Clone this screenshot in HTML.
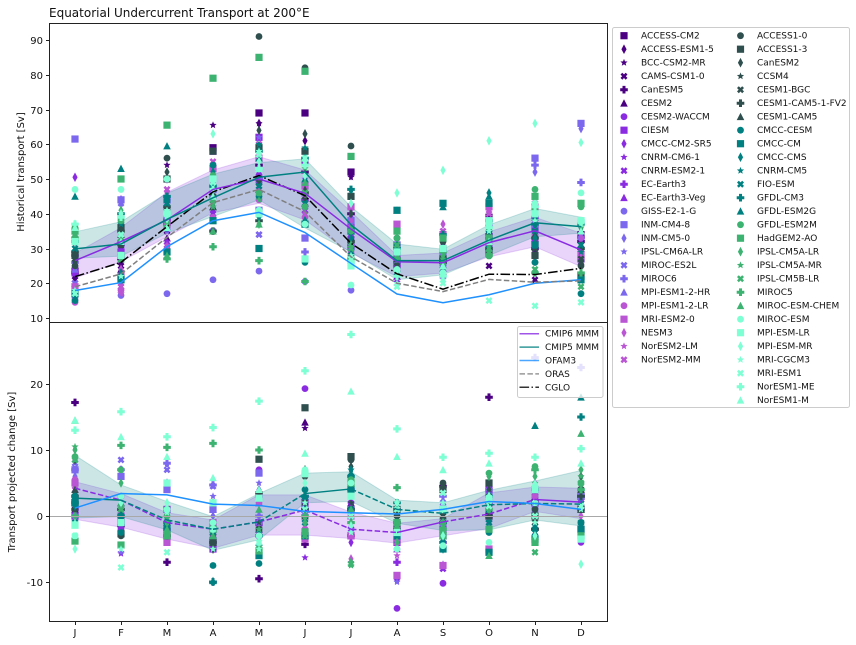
<!DOCTYPE html>
<html>
<head>
<meta charset="utf-8">
<title>Equatorial Undercurrent Transport at 200°E</title>
<style>
html,body{margin:0;padding:0;background:#fff;}
svg{display:block;}
text{font-family:"DejaVu Sans","Liberation Sans",sans-serif;fill:#111;}
</style>
</head>
<body>
<svg id="chart" xmlns="http://www.w3.org/2000/svg" width="856" height="645" viewBox="0 0 856 645">
  <rect x="0" y="0" width="856" height="645" fill="#fff"/>
  <text x="49" y="17" font-size="12">Equatorial Undercurrent Transport at 200°E</text>
  <text transform="translate(24,172) rotate(-90)" text-anchor="middle" font-size="10">Historical transport [Sv]</text>
  <text transform="translate(15,472) rotate(-90)" text-anchor="middle" font-size="10">Transport projected change [Sv]</text>
  <g id="bands"></g>
  <g id="markers"></g>
  <line x1="49" x2="607" y1="516.5" y2="516.5" stroke="#a8a8a8" stroke-width="1"/>
  <g id="lines"></g>
  <g id="axes"></g>
  <g id="legends"></g>
</svg>
<script>
const months = ['J','F','M','A','M','J','J','A','S','O','N','D'];
const histTicks = [10,20,30,40,50,60,70,80,90];
const changeTicks = [-10,0,10,20];

const cmip6Names = ['ACCESS-CM2','ACCESS-ESM1-5','BCC-CSM2-MR','CAMS-CSM1-0','CanESM5','CESM2','CESM2-WACCM','CIESM','CMCC-CM2-SR5','CNRM-CM6-1','CNRM-ESM2-1','EC-Earth3','EC-Earth3-Veg','GISS-E2-1-G','INM-CM4-8','INM-CM5-0','IPSL-CM6A-LR','MIROC-ES2L','MIROC6','MPI-ESM1-2-HR','MPI-ESM1-2-LR','MRI-ESM2-0','NESM3','NorESM2-LM','NorESM2-MM'];
const cmip5Names = ['ACCESS1-0','ACCESS1-3','CanESM2','CCSM4','CESM1-BGC','CESM1-CAM5-1-FV2','CESM1-CAM5','CMCC-CESM','CMCC-CM','CMCC-CMS','CNRM-CM5','FIO-ESM','GFDL-CM3','GFDL-ESM2G','GFDL-ESM2M','HadGEM2-AO','IPSL-CM5A-LR','IPSL-CM5A-MR','IPSL-CM5B-LR','MIROC5','MIROC-ESM-CHEM','MIROC-ESM','MPI-ESM-LR','MPI-ESM-MR','MRI-CGCM3','MRI-ESM1','NorESM1-ME','NorESM1-M'];

const cmip6Hist = [
[23.5,28,38,59,69,69,52,31,30,39,31,34],
[22,26,41,49,66,61,51,29,31,41,30,29],
[24,30,54,65.5,66,58,50.5,33,28,34,29,27],
[21,25,35,44,50,46,33,24,23,25,21,26],
[23,27,37,47,54,52,40,26,27,33,30,32],
[20,24,33,42,47,43,31,22,23,30,33,30],
[24,29,36,45,49,44,33,26,26,30,32,28],
[23,29,44,58,62,55,36,28,27,30,36,27],
[50.5,44,50,52,51,48,39,31,30,37,39,36],
[16,17,32,41,46,40,27,21,23,28,32,26],
[17,19,31,40,34,41,29,20,22,29,33,27],
[28,31,38,47,50,44,31,25,26,34,39,33],
[29,33,40,48,52,46,34,27,27,35,40,34],
[16,16.5,17,21,23.5,20.5,18,27,25,30,34,33],
[61.5,44,44,47,41,33,38,31,29,37,56,66],
[35,43,45,48,46,40,32,24,25,35,52,64.5],
[18,20,35,46,62,50,36,28,25,32,38,34],
[20,43,36,35,34,33,28,23,24,31,38,38],
[26,32,39,45,50,29,30,26,26,33,54,49],
[24,28,36,45,50,46,32,25,26,33,37,31],
[14.5,18,30,39,44,39,29,27,27,31,34,29],
[19,22,37,53,56,48,42,37,34,42,42,28],
[18,24,46,54,58,45,38,36,37,41,40,33],
[15,17,31,42,47,40,30,26,30,36,38,30],
[15,19,47,55,60,43,36,35,35,40,43,31]
];
const cmip5Hist = [
[25,31,56,58,91,82,59.5,33,32,34,26,25],
[28,36,50,58,59,58,45,29,27,29,28,22],
[26,36,52,48,64,63,40,25,24,29,28,26],
[27,33,40,43,48,42,30,24,24,28,31,26],
[27,34,41,45,49,44,31,25,25,28,30,27],
[29,35,42,35,38,46,32,27,26,30,33,30],
[29,34,42,42,41,47,33,27,27,30,34,31],
[15,22,44,54,45,26,28,31,30,35,26,17],
[17,21,29,38,30,37,35,41,43,43,31,21],
[16,23,36,52,39,38,33,30,30,46,33,36],
[34,37,43,50,60,59,47,27,24,33,37,29],
[30,38,43,50,48,43,29,23,23,30,35,31],
[32,40,45,48,58,56,47,30,34,38,37,37],
[45,53,59.5,48,56,50,36,41,42,45,39,43],
[36,38,50,51,46,42,35,33,30,36,47,42],
[35,50,65.5,79,85,81,56.5,35,33,33,45,43],
[33,41,38,43,37,55,31,29,28,32,41,37],
[34,32,36,42,44,53,31,28,27,31,40,36],
[34,33,37,44,46,46,30,31,26,28,24,19],
[33,28,27,30.5,26.5,20.5,27,27,29,28,23,23],
[36,27,28,35,37,49,36,28,23,30,42,38],
[47,47,50,50,41,37,19.5,24,23,37,43,46],
[32,28,40,50,40,27,25,29,30,38,40,38],
[37,40,38.5,63,55,51,43,46,52.5,61,66,60.5],
[18,22,41,50,58,55,28,20,21,35,38,37],
[17,34,40,49,57,56,27,19,20,15,13.5,14.5],
[37,39,40,47,53,54,26,22,22,36,42,38],
[36,32,36,45,53,56,26,24,25,32,40,35]
];
const cmip6Change = [
[2,-1,-3,-4,-1,-3,1,-2,-3,0,2,3],
[3,-2,-3,-5,0,-2,2,-1,-2,1,3,2],
[0,-1,-2,-5,-2,13.3,-1,-4,-1,2,1,2],
[1,0,-3,-4,-1,0,0,-3,-1,1,3,1],
[17.2,-1.5,-7,-10,-9.5,-4.3,-3,-2,4.5,18,-2,3],
[1,0,-1,-3,-2,14.2,2,-2,1,2,2,1],
[-3.5,-2,-3,-4,7,19.3,2,-14,-10.2,-2,-3,-4],
[0,-1,1,-5,-1,2,-3,-4,-2,4,4,3],
[5,-1,-2,-4,-2,3,-4,-3,-2,5,4,3],
[0,-5.7,-4,-2,-3,-6.3,-2,-9.8,-7.3,-1,0,-2],
[-1,-1,-3,-3,-3,1,-2,-9.2,-8,1,1,2],
[1,1,-2,-4,3,3,1,-7,-4,2,2,1],
[2,2,-1,-3,2,2,0,-5,-3,3,3,2],
[0,3,-1,-2,-1,0,0,-3,-2,2,3,1],
[7,6,4,1,6.5,1,1,-1,1,3,4,3],
[6,7,5,0,4,-3,-1,-2,-1,1,2,2],
[1,-5.5,8,3,5,-1,-2,-10,-7.5,1,2,2],
[8,8.5,7,4.5,2,0,1,1,2,-1,1,1],
[7,7,8,4.7,0,1,4,1,3,4,24,22.5],
[2,0,1,1,2,1,1,-2,-1,1,2,2],
[5.5,3,1,-3,2,-2,-3,-5,-3,2,3,1],
[5,0,-4,-1,3,-3.5,-3,-9,-7.5,-5,4,-2],
[4.5,1,-3,-2,-2,-3,-6.5,-5,-4,-5,5,0],
[3,1,-3,-4,-3,-3,-7,-6,-3,-2,3,-3],
[4,0,-2,-3,-2,-2.5,-3,-4,-3,-1,4,-2]
];
const cmip5Change = [
[1,-3,-2,-1,-2,6,8.5,0,5,3,1,-1],
[2,-2.7,-3,-4,8.6,16.4,9,1,4,5,0,1],
[8.5,1,-2,-5,3,7,7.5,0,4.5,4,1,6],
[2,1,-1,-3,-1,3,2,-1,1,1,-2,5],
[3,0,-2,-3,-2,2,1,-2,0,1,-1,4],
[3,1,-3,-4,3.5,1,1,-1,-1,0,-2,3],
[4,2,-1,-3,4,0,1,-1,0,0,-3,4],
[3,-2.5,-1,-7.5,-7.2,4,1,-2,-4,-2.5,-3,-1],
[2,-1,-2,-2,-6,-3,4,-3,-5,-5.5,-3.5,-2],
[1.5,0,-2,-2,-5,1,7,-1,-5,-2,-2,-3],
[2,-1,-1,-10,-2.5,3,7,-1,-4,-1,-1.5,2],
[-1,0,-1,-3,-5,-1,6,-2,-5,-1,-2,-1],
[2,0,-1,-10,-3,3,6,2,-1,3,4,15],
[3,2,-1,-9.8,-4,3,5,-2,-3,1,13.7,18],
[9,7,0,-1,-5,6.5,5.5,-2,-1,6.5,7.5,5],
[-3.8,-4.4,-3,-2,-5.3,-2.4,5,-1,-3,-2,-4,-3],
[10,5,-1,2,-4,-1,-7,-4,-1,6,6,7],
[10.5,1,-1,-1,-2,0,-7.5,-1,-2,1,5,6],
[8.5,1,1,-2,-5,-3,-7.3,-2,-2,2,-5.5,5],
[0,10.7,10.4,11,10,0,-1,4.3,-2,1,7,4],
[14.5,2,-2,-3,1,7,1,-2,-2,-6,-3,12.5],
[-3,3,1,-1,-3,7,5,-5,-4.5,-4,2,-3.5],
[-1.4,-1,5,2,2.7,6.4,3,-2.5,1,2.5,4,-3.5],
[-5,2,2,-2,-4,5,-1.5,2,-3,3,-3,-7.3],
[-1,-5,0.5,-5,-5,2,-2.5,2,2,3,-1,1],
[-3,-7.8,-5.5,-2,-4,1,0,1,3.5,1.5,0,1.5],
[13,15.8,12,13.4,17.4,22,27.5,13.2,8.9,9.5,8.9,10.2],
[14.5,12,9,5.8,4,9.5,18.9,9,7,8,5,8]
];

const cmip6HistMean = [26.5,32,38.2,47,50,45.9,35.6,26.2,25.9,31.7,35.1,29.6];
const cmip6HistUpper = [28.6,36,46.2,52.6,56.4,52.6,40.6,28,28.7,34.8,39,34.4];
const cmip6HistLower = [21.5,26.2,33.4,40.3,43,38.2,28.7,21.9,22.9,27.6,30.5,24.8];
const cmip5HistMean = [29.9,31.3,38.4,44.6,50.5,52,36.8,26.5,26.5,32.4,37.4,36.3];
const cmip5HistUpper = [34.8,37.7,45.9,51.4,54.7,55.8,42,31.3,29.8,36.8,41.5,39];
const cmip5HistLower = [27.2,27.8,34.4,39.2,44,35.9,29,21,22.4,28,33.4,34.4];
const ofam3Hist = [17.9,20.2,30.5,38,40.4,34.6,25.7,16.9,14.4,16.7,20,21];
const orasHist = [19,22.7,33.2,43.2,47,40.6,27.6,20,17.6,21.1,20.3,20.7];
const cgloHist = [21.9,26,36.3,46.3,51,45.2,31.5,22.7,18.3,22.6,22.5,24.3];

const cmip6ChangeMean = [4.2,2.4,-1,-2,-0.9,0.9,-2,-2.5,-0.9,0.3,2.5,2.1];
const cmip6ChangeUpper = [5.2,3.4,0.5,-0.6,3.2,3.2,0.6,-1.1,-0.4,3.5,4.4,4.2];
const cmip6ChangeLower = [-0.5,-1.7,-3.5,-4.9,-2.9,-2.9,-3.4,-4.1,-3,-1.9,0.7,-0.4];
const cmip5ChangeMean = [2.7,2.4,-0.6,-2,-0.9,3.4,4.1,1,0.4,1.7,1.9,1.8];
const cmip5ChangeUpper = [9.2,4.7,2.2,-0.1,3.4,6.5,6.7,2.4,2,3.9,5.3,6.9];
const cmip5ChangeLower = [-0.3,-0.1,-2.1,-5.2,-3.6,2,2.2,-1.1,-2.2,-2.1,-0.6,-1.5];
const ofam3Change = [1.2,3.4,3.2,1.8,1.6,0.7,0.5,0.3,1,2.2,1.9,1];
const cmip6SegmentDashed = [true,true,true,true,true,true,true,false,true,true,false];
const cmip5SegmentDashed = [false,true,true,true,true,false,true,true,true,true,true];

const NS = 'http://www.w3.org/2000/svg';
const markerCycle = ['s','d','*','X','P','^','o'];
const PURPLE = '#8a2be2', TEAL = '#008080', BLUE = '#1e90ff';

function xScale(i){ return 75 + 46*i; }
function yHist(v){ return 318 - (v-10)*3.475; }
function yChange(v){ return 516 - 6.6*v; }

function cmip6Color(i){
  if(i<6) return '#4b0082';
  if(i<13) return '#8a2be2';
  if(i<20) return '#7b68ee';
  return '#ba55d3';
}
function cmip5Color(i){
  if(i<7) return '#2f4f4f';
  if(i<14) return '#008080';
  if(i<21) return '#3cb371';
  return '#7fffd4';
}
function polygon(pts,x,y){
  return 'M'+pts.map(function(p){return (x+p[0]).toFixed(2)+' '+(y+p[1]).toFixed(2);}).join('L')+'Z';
}
function markerPath(kind,x,y){
  if(kind==='s') return polygon([[-3.6,-3.6],[3.6,-3.6],[3.6,3.6],[-3.6,3.6]],x,y);
  if(kind==='d') return polygon([[0,-4.8],[2.6,0],[0,4.8],[-2.6,0]],x,y);
  if(kind==='^') return polygon([[0,-3.9],[3.8,3.4],[-3.8,3.4]],x,y);
  if(kind==='o') return 'M'+(x-3.4)+' '+y+'a3.4 3.4 0 1 0 6.8 0a3.4 3.4 0 1 0 -6.8 0Z';
  if(kind==='X') return polygon([[-3.5,-1.7],[-1.7,-3.5],[0,-1.8],[1.7,-3.5],[3.5,-1.7],[1.8,0],[3.5,1.7],[1.7,3.5],[0,1.8],[-1.7,3.5],[-3.5,1.7],[-1.8,0]],x,y);
  if(kind==='P') return polygon([[-1.5,-3.8],[1.5,-3.8],[1.5,-1.5],[3.8,-1.5],[3.8,1.5],[1.5,1.5],[1.5,3.8],[-1.5,3.8],[-1.5,1.5],[-3.8,1.5],[-3.8,-1.5],[-1.5,-1.5]],x,y);
  var pts=[];
  for(var k=0;k<10;k++){
    var r=k%2===0?3.8:1.7, a=-Math.PI/2+k*Math.PI/5;
    pts.push([r*Math.cos(a),r*Math.sin(a)]);
  }
  return polygon(pts,x,y);
}
function addMark(parent,kind,x,y,color,name){
  var el=document.createElementNS(NS,'path');
  el.setAttribute('d',markerPath(kind,x,y));
  el.setAttribute('fill',color);
  
  
  parent.appendChild(el);
}
function addBand(parent,upper,lower,yFn,color,name){
  var top=upper.map(function(v,i){return xScale(i)+' '+yFn(v).toFixed(2);});
  var bottom=lower.map(function(v,i){return xScale(i)+' '+yFn(v).toFixed(2);}).reverse();
  var el=document.createElementNS(NS,'path');
  el.setAttribute('d','M'+top.concat(bottom).join('L')+'Z');
  el.setAttribute('fill',color);
  el.setAttribute('fill-opacity','0.2');
  el.setAttribute('stroke',color);
  el.setAttribute('stroke-opacity','0.2');
  
  
  parent.appendChild(el);
}
function addLine(parent,values,yFn,color,dash,name){
  var el=document.createElementNS(NS,'path');
  el.setAttribute('d','M'+values.map(function(v,i){return xScale(i)+' '+yFn(v).toFixed(2);}).join('L'));
  el.setAttribute('fill','none');
  el.setAttribute('stroke',color);
  el.setAttribute('stroke-width','1.5');
  if(dash) el.setAttribute('stroke-dasharray',dash);
  
  
  parent.appendChild(el);
}
function addSegmentedLine(parent,values,dashed,yFn,color,name){
  for(var i=0;i<values.length-1;i++){
    var el=document.createElementNS(NS,'line');
    el.setAttribute('x1',xScale(i));
    el.setAttribute('x2',xScale(i+1));
    el.setAttribute('y1',yFn(values[i]));
    el.setAttribute('y2',yFn(values[i+1]));
    el.setAttribute('stroke',color);
    el.setAttribute('stroke-width','1.5');
    if(dashed[i]) el.setAttribute('stroke-dasharray','5.5 2.4');
    
    
    parent.appendChild(el);
  }
}
function addText(parent,x,y,str,size,anchor,name){
  var el=document.createElementNS(NS,'text');
  el.setAttribute('x',x);
  el.setAttribute('y',y);
  el.setAttribute('font-size',size);
  if(anchor) el.setAttribute('text-anchor',anchor);
  el.textContent=str;
  
  
  parent.appendChild(el);
}
function addSimpleLine(parent,x1,y1,x2,y2,color,width,name){
  var el=document.createElementNS(NS,'line');
  el.setAttribute('x1',x1);
  el.setAttribute('y1',y1);
  el.setAttribute('x2',x2);
  el.setAttribute('y2',y2);
  el.setAttribute('stroke',color);
  el.setAttribute('stroke-width',width);
  
  
  parent.appendChild(el);
}
function addFrame(parent,y,h,name){
  var el=document.createElementNS(NS,'rect');
  el.setAttribute('x',49.5);
  el.setAttribute('y',y);
  el.setAttribute('width',558);
  el.setAttribute('height',h);
  el.setAttribute('fill','none');
  el.setAttribute('stroke','#222');
  el.setAttribute('stroke-width','1');
  
  
  parent.appendChild(el);
}

var bandsG=document.getElementById('bands');
addBand(bandsG,cmip6HistUpper,cmip6HistLower,yHist,PURPLE,'cmip6-historical-band');
addBand(bandsG,cmip5HistUpper,cmip5HistLower,yHist,TEAL,'cmip5-historical-band');
addBand(bandsG,cmip6ChangeUpper,cmip6ChangeLower,yChange,PURPLE,'cmip6-change-band');
addBand(bandsG,cmip5ChangeUpper,cmip5ChangeLower,yChange,TEAL,'cmip5-change-band');

var markersG=document.getElementById('markers');
function drawModels(names,hist,change,colorFn,offset){
  names.forEach(function(name,m){
    var kind=markerCycle[(m+offset)%7];
    var color=colorFn(m);
    hist[m].forEach(function(v,i){
      addMark(markersG,kind,xScale(i),yHist(v),color,'historical-'+name);
    });
    change[m].forEach(function(v,i){
      addMark(markersG,kind,xScale(i),yChange(v),color,'change-'+name);
    });
  });
}
drawModels(cmip6Names,cmip6Hist,cmip6Change,cmip6Color,0);
drawModels(cmip5Names,cmip5Hist,cmip5Change,cmip5Color,6);

var linesG=document.getElementById('lines');
addLine(linesG,ofam3Hist,yHist,BLUE,null,'ofam3-historical-line');
addLine(linesG,orasHist,yHist,'#808080','5.5 2.4','oras-historical-line');
addLine(linesG,cgloHist,yHist,'#000','9.6 2.4 1.5 2.4','cglo-historical-line');
addLine(linesG,cmip6HistMean,yHist,PURPLE,null,'cmip6-historical-line');
addLine(linesG,cmip5HistMean,yHist,TEAL,null,'cmip5-historical-line');
addSegmentedLine(linesG,cmip6ChangeMean,cmip6SegmentDashed,yChange,PURPLE,'cmip6-change-line');
addSegmentedLine(linesG,cmip5ChangeMean,cmip5SegmentDashed,yChange,TEAL,'cmip5-change-line');
addLine(linesG,ofam3Change,yChange,BLUE,null,'ofam3-change-line');

var axesG=document.getElementById('axes');
addFrame(axesG,23.5,299,'historical-panel-frame');
addFrame(axesG,322.5,299,'change-panel-frame');
histTicks.forEach(function(t){
  var y=Math.round(yHist(t))+0.5;
  addSimpleLine(axesG,46,y,49.5,y,'#222',1,'historical-y-tick');
  addText(axesG,43,y+3.5,String(t),10,'end','historical-y-tick-label');
});
changeTicks.forEach(function(t){
  var y=Math.round(yChange(t))+0.5;
  addSimpleLine(axesG,46,y,49.5,y,'#222',1,'change-y-tick');
  addText(axesG,43,y+3.5,String(t),10,'end','change-y-tick-label');
});
months.forEach(function(mo,i){
  var x=xScale(i)+0.5;
  addSimpleLine(axesG,x,621.5,x,625,'#222',1,'month-tick');
  addText(axesG,xScale(i),636,mo,10,'middle','month-tick-label');
});

var legendsG=document.getElementById('legends');
function addLegendBox(x,y,w,h,opacity,name){
  var el=document.createElementNS(NS,'rect');
  el.setAttribute('x',x);
  el.setAttribute('y',y);
  el.setAttribute('width',w);
  el.setAttribute('height',h);
  el.setAttribute('rx',2);
  el.setAttribute('fill','#fff');
  el.setAttribute('fill-opacity',opacity);
  el.setAttribute('stroke','#ccc');
  el.setAttribute('stroke-width','1');
  
  
  legendsG.appendChild(el);
}
addLegendBox(612.5,27.5,237,380,1,'model-legend-frame');
cmip6Names.forEach(function(name,i){
  var y=35.7+13.5*i;
  addMark(legendsG,markerCycle[i%7],624,y,cmip6Color(i),'legend-marker-'+name);
  addText(legendsG,641,y+2.7,name,9,null,'legend-label-'+name);
});
cmip5Names.forEach(function(name,i){
  var y=35.7+13.5*i;
  addMark(legendsG,markerCycle[(i+6)%7],740.5,y,cmip5Color(i),'legend-marker-'+name);
  addText(legendsG,757,y+2.7,name,9,null,'legend-label-'+name);
});

addLegendBox(517.5,326.5,85.5,71,0.8,'reanalysis-legend-frame');
const meanLegendLabels = ['CMIP6 MMM','CMIP5 MMM','OFAM3','ORAS','CGLO'];
const meanLegendColors = [PURPLE,TEAL,BLUE,'#808080','#000'];
const meanLegendDashes = [null,null,null,'5.5 2.4','9.6 2.4 1.5 2.4'];
meanLegendLabels.forEach(function(label,i){
  var y=333.7+13.4*i;
  var el=document.createElementNS(NS,'line');
  el.setAttribute('x1',519.5);
  el.setAttribute('x2',539);
  el.setAttribute('y1',y);
  el.setAttribute('y2',y);
  el.setAttribute('stroke',meanLegendColors[i]);
  el.setAttribute('stroke-width','1.5');
  el.setAttribute('stroke-opacity','0.8');
  if(meanLegendDashes[i]) el.setAttribute('stroke-dasharray',meanLegendDashes[i]);
  
  
  legendsG.appendChild(el);
  addText(legendsG,545,y+3,label,9,null,'legend-label-'+label);
});
</script>
</body>
</html>
